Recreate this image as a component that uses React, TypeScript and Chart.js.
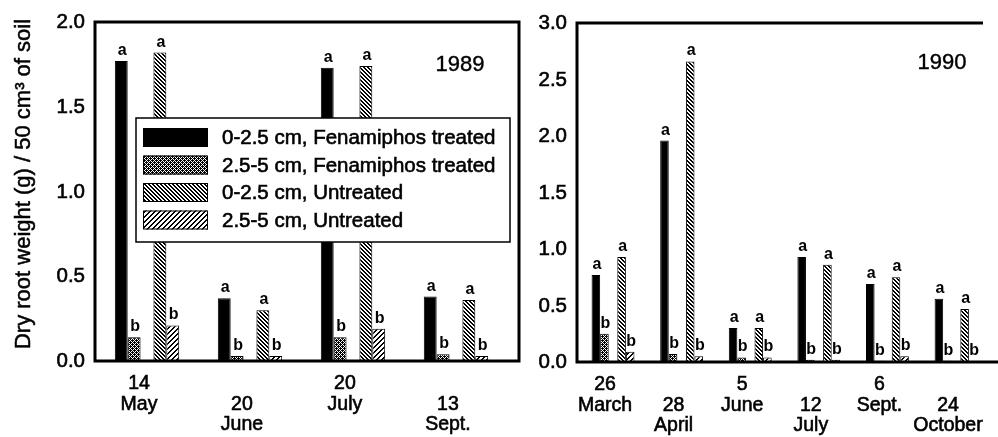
import React, { useEffect, useRef } from 'react';
import { Chart, registerables } from 'chart.js';

Chart.register(...registerables);

const FONT = '"Liberation Sans", Arial, Helvetica, sans-serif';

const SERIES_NAMES = [
  '0-2.5 cm, Fenamiphos treated',
  '2.5-5 cm, Fenamiphos treated',
  '0-2.5 cm, Untreated',
  '2.5-5 cm, Untreated',
];

// ---- 1989 ----
const DATES_1989 = [['14', 'May'], ['', '20', 'June'], ['20', 'July'], ['', '13', 'Sept.']];
const FEN_0_25_1989 = [1.77, 0.37, 1.73, 0.38];
const FEN_25_5_1989 = [0.14, 0.03, 0.14, 0.04];
const UNT_0_25_1989 = [1.82, 0.30, 1.74, 0.36];
const UNT_25_5_1989 = [0.21, 0.03, 0.19, 0.03];
const LETTERS_1989 = [
  ['a', 'a', 'a', 'a'],
  ['b', 'b', 'b', 'b'],
  ['a', 'a', 'a', 'a'],
  ['b', 'b', 'b', 'b'],
];
const Y_TICKS_1989 = ['0.0', '0.5', '1.0', '1.5', '2.0'];

// ---- 1990 ----
const DATES_1990 = [['26', 'March'], ['', '28', 'April'], ['5', 'June'], ['', '12', 'July'], ['6', 'Sept.'], ['', '24', 'October']];
const FEN_0_25_1990 = [0.77, 1.96, 0.30, 0.93, 0.69, 0.56];
const FEN_25_5_1990 = [0.25, 0.07, 0.04, 0.02, 0.01, 0.01];
const UNT_0_25_1990 = [0.93, 2.66, 0.30, 0.86, 0.75, 0.47];
const UNT_25_5_1990 = [0.09, 0.05, 0.04, 0.02, 0.05, 0.005];
const LETTERS_1990 = [
  ['a', 'a', 'a', 'a', 'a', 'a'],
  ['b', 'b', 'b', 'b', 'b', 'b'],
  ['a', 'a', 'a', 'a', 'a', 'a'],
  ['b', 'b', 'b', 'b', 'b', 'b'],
];
const Y_TICKS_1990 = ['0.0', '0.5', '1.0', '1.5', '2.0', '2.5', '3.0'];

const Y_STEP = 0.5;
const Y_TITLE = 'Dry root weight (g) / 50 cm\u00B3 of soil';

const SPEC_1989 = {
  dates: DATES_1989,
  series: [FEN_0_25_1989, FEN_25_5_1989, UNT_0_25_1989, UNT_25_5_1989],
  letters: LETTERS_1989,
  yTicks: Y_TICKS_1989,
  yMax: 2,
  xMin: -0.505,
  xMax: 3.612,
  labelShift: -0.078,
  axisWidth: 95,
  axisHeight: 76,
  padTop: 22,
  padRight: 11,
  closed: true,
  legend: true,
  title: true,
  year: '1989',
  yearX: 460,
  yearY: 71,
  canvasLeft: 0,
  canvasWidth: 530,
};

const SPEC_1990 = {
  dates: DATES_1990,
  series: [FEN_0_25_1990, FEN_25_5_1990, UNT_0_25_1990, UNT_25_5_1990],
  letters: LETTERS_1990,
  yTicks: Y_TICKS_1990,
  yMax: 3,
  xMin: -0.525,
  xMax: 5.393,
  labelShift: -0.117,
  axisWidth: 47,
  axisHeight: 75,
  padTop: 23,
  padRight: 15,
  closed: false,
  legend: false,
  title: false,
  year: '1990',
  yearX: 412,
  yearY: 69,
  canvasLeft: 530,
  canvasWidth: 468,
};

function makePattern(kind: string): CanvasPattern | string {
  const size = kind === 'fwd' ? 5 : 4;
  const c = document.createElement('canvas');
  c.width = size;
  c.height = size;
  const g = c.getContext('2d');
  if (!g) return '#888';
  g.fillStyle = '#fff';
  g.fillRect(0, 0, size, size);
  g.fillStyle = '#000';
  for (let y = 0; y < size; y++) {
    for (let x = 0; x < size; x++) {
      let on = false;
      if (kind === 'cross') on = !(x % 2 === 1 && y % 2 === 1) && !(x % 2 === 0 && y % 2 === 0 && (x + y) % 4 === 2);
      if (kind === 'back') {
        const m = (x - y + size) % size;
        on = m === 0 || m === 1;
      }
      if (kind === 'fwd') {
        const m = (x + y) % size;
        on = m === 0 || m === 1;
      }
      if (on) g.fillRect(x, y, 1, 1);
    }
  }
  const p = g.createPattern(c, 'repeat');
  return p || '#888';
}

function text(ctx: CanvasRenderingContext2D, s: string, x: number, y: number, w = 0.6) {
  ctx.fillText(s, x, y);
  if (w > 0) {
    ctx.lineWidth = w;
    ctx.strokeStyle = '#000';
    ctx.strokeText(s, x, y);
  }
}

function Panel({ spec }: { spec: any }) {
  const ref = useRef<HTMLCanvasElement | null>(null);

  useEffect(() => {
    const canvas = ref.current;
    if (!canvas) return;
    const fills = ['#000', makePattern('cross'), makePattern('back'), makePattern('fwd')];

    const datasets: any[] = [];
    spec.series.forEach((vals: number[], s: number) => {
      if (s === 2) {
        datasets.push({
          label: 'gap',
          data: vals.map((_v: number, i: number) => ({ x: i, y: 0 })),
          backgroundColor: 'rgba(0,0,0,0)',
          borderWidth: 0,
        });
      }
      datasets.push({
        label: SERIES_NAMES[s],
        data: vals.map((v: number, i: number) => ({ x: i, y: v })),
        backgroundColor: fills[s],
        borderColor: '#000',
        borderWidth: 1,
        letters: spec.letters[s],
      });
    });

    const decor = {
      id: 'decor',
      afterDatasetsDraw(chart: any) {
        const { ctx, chartArea: ca, scales } = chart;
        ctx.save();
        // significance letters
        ctx.fillStyle = '#000';
        ctx.font = `bold 16px ${FONT}`;
        ctx.textAlign = 'center';
        ctx.textBaseline = 'alphabetic';
        chart.data.datasets.forEach((ds: any, di: number) => {
          if (!ds.letters) return;
          const meta = chart.getDatasetMeta(di);
          meta.data.forEach((bar: any, i: number) => {
            text(ctx, ds.letters[i], bar.x + 1, bar.y - 6, 0);
          });
        });

        // frame
        ctx.strokeStyle = '#000';
        ctx.lineWidth = 3;
        ctx.beginPath();
        if (spec.closed) {
          ctx.rect(ca.left, ca.top, ca.right - ca.left, ca.bottom - ca.top);
        } else {
          ctx.moveTo(ca.right, ca.top);
          ctx.lineTo(ca.left, ca.top);
          ctx.lineTo(ca.left, ca.bottom);
          ctx.lineTo(ca.right + 15, ca.bottom);
        }
        ctx.stroke();

        // legend
        if (spec.legend) {
          const bx = 136, by = 118, bw = 374, bh = 124;
          ctx.fillStyle = '#fff';
          ctx.fillRect(bx, by, bw, bh);
          ctx.lineWidth = 1.5;
          ctx.strokeRect(bx, by, bw, bh);
          ctx.font = `20.5px ${FONT}`;
          ctx.textAlign = 'left';
          ctx.textBaseline = 'middle';
          SERIES_NAMES.forEach((name, k) => {
            const cy = 137.5 + k * 27.5;
            ctx.fillStyle = fills[k];
            ctx.fillRect(143, cy - 9.5, 65, 19);
            ctx.lineWidth = 1;
            ctx.strokeStyle = '#000';
            ctx.strokeRect(143.5, cy - 9, 64, 18);
            ctx.fillStyle = '#000';
            text(ctx, name, 222, cy + 1);
          });
        }

        ctx.fillStyle = '#000';
        // y tick labels
        ctx.font = `20.5px ${FONT}`;
        ctx.textAlign = 'right';
        ctx.textBaseline = 'middle';
        spec.yTicks.forEach((t: string, i: number) => {
          const y = scales.y.getPixelForValue(i * Y_STEP);
          text(ctx, t, ca.left - 10, y + 0.5);
        });

        // year
        ctx.font = `22px ${FONT}`;
        ctx.textAlign = 'center';
        ctx.textBaseline = 'alphabetic';
        text(ctx, spec.year, spec.yearX, spec.yearY, 0.4);

        // x labels (date, month)
        ctx.font = `19.5px ${FONT}`;
        spec.dates.forEach((lines: string[], i: number) => {
          const x = scales.x.getPixelForValue(i + spec.labelShift);
          lines.forEach((t: string, k: number) => {
            if (t) text(ctx, t, x, ca.bottom + 28 + k * 20.5);
          });
        });

        // y title
        if (spec.title) {
          ctx.save();
          ctx.translate(24, 184);
          ctx.rotate(-Math.PI / 2);
          ctx.font = `22px ${FONT}`;
          ctx.textAlign = 'center';
          ctx.textBaseline = 'middle';
          text(ctx, Y_TITLE, 0, 0, 0.5);
          ctx.restore();
        }
        ctx.restore();
      },
    };

    const chart = new Chart(canvas, {
      type: 'bar',
      data: { datasets },
      options: {
        animation: false,
        responsive: false,
        maintainAspectRatio: false,
        events: [],
        layout: { padding: { left: 0, top: spec.padTop, right: spec.padRight, bottom: 0 } },
        datasets: { bar: { categoryPercentage: 0.625, barPercentage: 1.0 } },
        plugins: { legend: { display: false }, tooltip: { enabled: false }, title: { display: false } },
        scales: {
          x: {
            type: 'linear',
            offset: false,
            min: spec.xMin,
            max: spec.xMax,
            grid: { display: false, drawTicks: false, offset: false },
            border: { display: false },
            ticks: { display: false },
            afterBuildTicks: (s: any) => {
              s.ticks = spec.dates.map((_d: any, i: number) => ({ value: i }));
            },
            afterFit: (s: any) => {
              s.height = spec.axisHeight;
            },
          },
          y: {
            type: 'linear',
            min: 0,
            max: spec.yMax,
            grid: { display: false, drawTicks: false },
            border: { display: false },
            ticks: { display: false, stepSize: Y_STEP },
            afterFit: (s: any) => {
              s.width = spec.axisWidth;
            },
          },
        },
      } as any,
      plugins: [decor],
    });
    return () => chart.destroy();
  }, [spec]);

  return (
    <canvas
      ref={ref}
      width={spec.canvasWidth}
      height={437}
      style={{ position: 'absolute', left: spec.canvasLeft, top: 0, width: spec.canvasWidth, height: 437 }}
    />
  );
}

export default function App() {
  return (
    <div style={{ position: 'fixed', left: 0, top: 0, width: 998, height: 437, background: '#fff', overflow: 'hidden' }}>
      <Panel spec={SPEC_1989} />
      <Panel spec={SPEC_1990} />
    </div>
  );
}
